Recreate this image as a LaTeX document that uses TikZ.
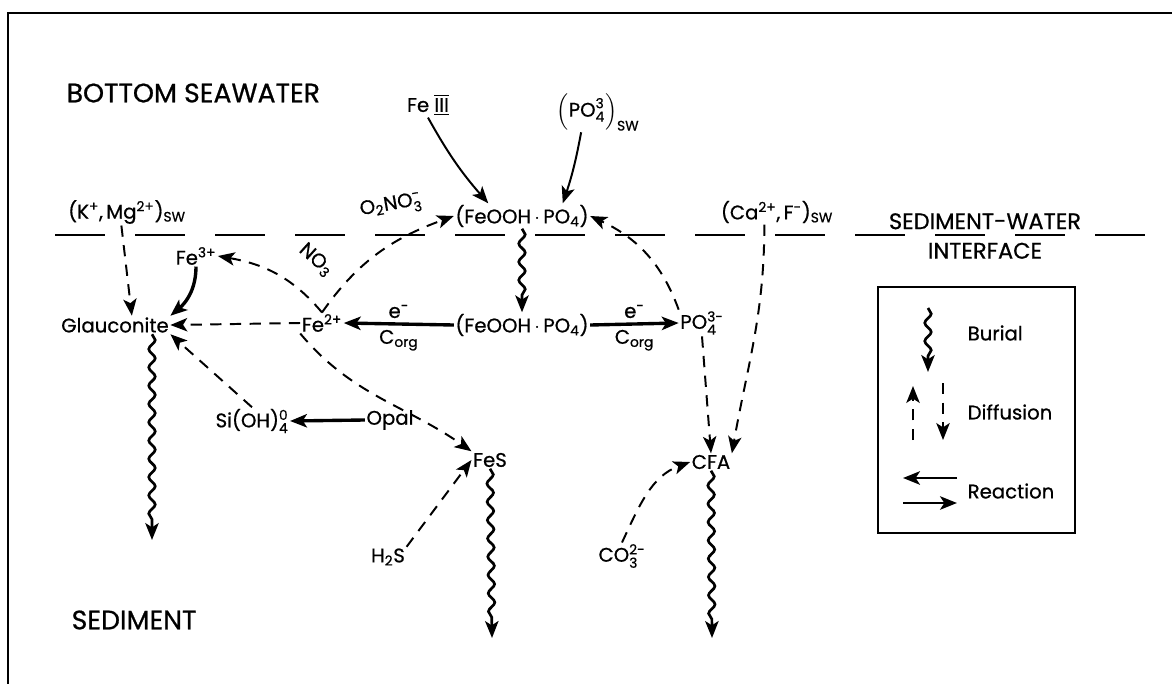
\documentclass[tikz,border=0pt]{standalone}
\usepackage{amsmath}
\usepackage{fontspec}
\setmainfont{Poppins}[FakeBold=0.7]
\usepackage{tikz}
\usetikzlibrary{arrows.meta,calc,decorations.pathmorphing}
\newcommand{\subsup}[2]{$_{\text{#1}}^{\text{#2}}$}

\begin{document}
\begin{tikzpicture}[x=0.025cm,y=-0.025cm,>={Stealth[length=12pt,width=9.5pt,inset=3pt]},
  every node/.style={font=\fontsize{14}{16}\selectfont,inner sep=1pt},
  region/.style={font=\fontsize{19}{22}\selectfont,anchor=west},
  burial/.style={->,line width=1.9pt,decorate,
    decoration={snake,amplitude=2.3pt,segment length=13pt,post length=11pt}},
  diffusion/.style={->,line width=1.4pt,dash pattern=on 8pt off 6pt},
  reaction/.style={->,line width=2.4pt},
  supply/.style={->,line width=1.4pt}]
  \useasboundingbox (0,0) rectangle (1172,684);
  \draw[line width=1.4pt] (8,684) -- (8,13) -- (1172,13);
  \foreach \x in {55,135,...,1095}
    \draw[line width=1.4pt] (\x,235) -- ++(50,0);

  \node[region] (sea) at (65,93) {BOTTOM SEAWATER};
  \node[region] (sed) at (70,620) {SEDIMENT};
  \node[align=center,font=\fontsize{16}{21}\selectfont] (swi) at (985,236) {SEDIMENT-WATER\\INTERFACE};

  \node (fe3sw) at (428,105) {Fe \ensuremath{\overline{\underline{\text{III}}}}};
  \node (po4sw) at (598,112) {$\left(\text{PO}_{\text{4}}^{\text{3}}\right)_{\text{SW}}$};
  \node (kmg) at (127,212) {(K$^{\text{+}}$,\,Mg$^{\text{2+}}$)$_{\text{SW}}$};
  \node[rotate=10] (o2no3) at (391,206) {O$_{\text{2}}$NO\subsup{3}{-}};
  \node (feooh1) at (522,216) {(FeOOH\,$\cdot$\,PO$_{\text{4}}$)};
  \node (caf) at (777,212) {(Ca$^{\text{2+}}$,\,F$^{\text{-}}$)$_{\text{SW}}$};
  \node (fe3) at (196,256) {Fe$^{\text{3+}}$};
  \node[rotate=-42] (no3) at (316,260) {NO$_{\text{3}}$};
  \node (glauc) at (115,325) {Glauconite};
  \node (fe2) at (322,323) {Fe$^{\text{2+}}$};
  \node (feooh2) at (522,325) {(FeOOH\,$\cdot$\,PO$_{\text{4}}$)};
  \node (po4) at (702,323) {PO\subsup{4}{3-}};
  \node (si) at (252,421) {Si(OH)\subsup{4}{0}};
  \node (opal) at (390,420) {Opal};
  \node (fes) at (490,460) {FeS};
  \node (cfa) at (711,462) {CFA};
  \node (h2s) at (388,557) {H$_{\text{2}}$S};
  \node (co3) at (622,556) {CO\subsup{3}{2-}};
  \coordinate (gbot) at (152,540);
  \coordinate (fesbot) at (492,638);
  \coordinate (cfabot) at (712,638);

  \draw[burial] (glauc.south -| gbot) -- (gbot);
  \draw[burial] (fes.south) -- (fesbot);
  \draw[burial] (cfa.south) -- (cfabot);
  \draw[burial] (feooh1.south) -- (feooh2.north);

  \draw[supply] (fe3sw.south) to[bend right=6] ([xshift=-24pt]feooh1.north);
  \draw[supply] ([xshift=-12pt]po4sw.south) to[bend left=4] ([xshift=29pt]feooh1.north);

  \draw[diffusion] ([xshift=-4pt]kmg.south) -- ([xshift=12pt]glauc.north);
  \draw[diffusion] (fe2.west) -- (glauc.east);
  \draw[diffusion] (fe2.north) to[out=130,in=-10] (fe3.east);
  \draw[diffusion] (fe2.north) to[out=55,in=200] (feooh1.west);
  \draw[diffusion] (fe2.south west) to[out=-50,in=145] (fes.north west);
  \draw[diffusion] (si.north) -- (glauc.south east);
  \draw[diffusion] (h2s.north east) -- (fes.west);
  \draw[diffusion] (po4.north west) to[out=110,in=-25] (feooh1.east);
  \draw[diffusion] (po4.south) -- (cfa.north);
  \draw[diffusion] ([xshift=-9pt]caf.south) to[out=-90,in=80] (cfa.north east);
  \draw[diffusion] (co3.north) to[out=65,in=200] (cfa.west);

  \draw[reaction] (fe3.south) to[out=-90,in=40] (glauc.north east);
  \draw[reaction] (feooh2.west) -- node[above=2pt] {e$^{\text{-}}$} node[below=2pt] {C$_{\text{org}}$} (fe2.east);
  \draw[reaction] (feooh2.east) -- node[above=2pt] {e$^{\text{-}}$} node[below=2pt] {C$_{\text{org}}$} (po4.west);
  \draw[reaction] (opal.west) -- (si.east);

  \draw[line width=1pt] (878,287) rectangle (1075,533);
  \draw[burial] (928,308) -- (928,372);
  \draw[diffusion] (913,440) -- (913,386);
  \draw[diffusion] (943,383) -- (943,440);
  \draw[reaction,line width=2pt] (957,478) -- (903,478);
  \draw[reaction,line width=2pt] (903,503) -- (957,503);
  \node[anchor=west] (burtext) at (966,333) {Burial};
  \node[anchor=west] (diftext) at (966,412) {Diffusion};
  \node[anchor=west] (reatext) at (966,491) {Reaction};
\end{tikzpicture}
\end{document}
